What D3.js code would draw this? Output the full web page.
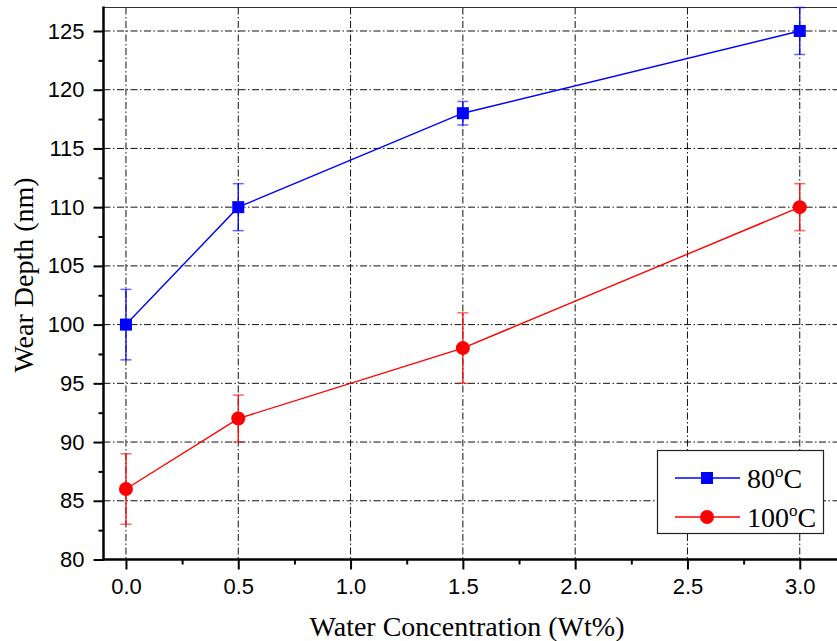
<!DOCTYPE html>
<html>
<head>
<meta charset="utf-8">
<script src="https://cdn.jsdelivr.net/npm/d3@7"></script>
<style>
  html, body { margin: 0; padding: 0; background: #fff; }
  svg { display: block; }
</style>
</head>
<body>
<svg id="chart" width="837" height="641"></svg>
<script>
// Water concentration (Wt%) at which wear depth was measured
const concentrations = [0.0, 0.5, 1.5, 3.0];

// Wear depth (nm) and error half-widths for each temperature
const depth80 = [100, 110, 118, 125];
const err80 = [3, 2, 1, 2];
const depth100 = [86, 92, 98, 110];
const err100 = [3, 2, 3, 2];

const seriesNames = ["80", "100"];
const xTicks = [0.0, 0.5, 1.0, 1.5, 2.0, 2.5, 3.0];
const yTicks = [80, 85, 90, 95, 100, 105, 110, 115, 120, 125];

(function draw() {
  const svg = d3.select("#chart");
  const W = 837;
  const plotLeft = 103.5, plotTop = 7.5, plotBottom = 559.5;

  const x = d3.scaleLinear().domain([-0.1, 3.2]).range([plotLeft, plotLeft + 3.3 * 224.6]);
  const y = d3.scaleLinear().domain([80, 127]).range([plotBottom, plotTop]);

  const dashDot = "7,2.5,1.5,2.5";

  // Grid lines (dash-dot)
  const grid = svg.append("g");
  grid.selectAll("line.gx").data(xTicks).join("line")
    .attr("x1", d => x(d)).attr("x2", d => x(d))
    .attr("y1", plotTop).attr("y2", plotBottom)
    .attr("stroke", "#111").attr("stroke-width", 1)
    .attr("stroke-dasharray", dashDot);
  grid.selectAll("line.gy").data(yTicks.filter(d => d > 80)).join("line")
    .attr("x1", plotLeft).attr("x2", W)
    .attr("y1", d => y(d)).attr("y2", d => y(d))
    .attr("stroke", "#111").attr("stroke-width", 1)
    .attr("stroke-dasharray", dashDot);

  // Top border
  svg.append("line")
    .attr("x1", plotLeft).attr("x2", W).attr("y1", plotTop).attr("y2", plotTop)
    .attr("stroke", "#333").attr("stroke-width", 1.2);

  // Axes
  const xAxis = d3.axisBottom(x).tickValues(xTicks).tickFormat(d3.format(".1f"))
    .tickSize(10).tickPadding(9);
  const xMinor = d3.axisBottom(x).tickValues(d3.range(0.25, 3.2, 0.5)).tickFormat("").tickSize(5);
  const yAxis = d3.axisLeft(y).tickValues(yTicks).tickFormat(d3.format("d"))
    .tickSize(10).tickPadding(9);
  const yMinor = d3.axisLeft(y).tickValues(d3.range(82.5, 127, 5)).tickFormat("").tickSize(5);

  function styleAxis(g) {
    g.select(".domain").remove();
    g.selectAll(".tick line").attr("stroke", "#000").attr("stroke-width", 2);
    g.selectAll("text").attr("fill", "#000")
      .style("font-family", "'Liberation Sans', Arial, sans-serif").style("font-size", "22px");
  }

  svg.append("g").attr("transform", `translate(0,${plotBottom})`).call(xAxis).call(styleAxis);
  svg.append("g").attr("transform", `translate(0,${plotBottom})`).call(xMinor).call(styleAxis);
  svg.append("g").attr("transform", `translate(${plotLeft},0)`).call(yAxis).call(styleAxis);
  svg.append("g").attr("transform", `translate(${plotLeft},0)`).call(yMinor).call(styleAxis);

  // Axis lines
  svg.append("line").attr("x1", plotLeft).attr("x2", plotLeft).attr("y1", plotTop - 1).attr("y2", plotBottom + 1)
    .attr("stroke", "#000").attr("stroke-width", 2.5);
  svg.append("line").attr("x1", plotLeft - 1).attr("x2", W).attr("y1", plotBottom).attr("y2", plotBottom)
    .attr("stroke", "#000").attr("stroke-width", 2.5);

  // Axis titles
  svg.append("text")
    .attr("x", 467).attr("y", 636)
    .attr("text-anchor", "middle")
    .style("font-family", "'Liberation Serif', 'Times New Roman', serif")
    .style("font-size", "28px")
    .text("Water Concentration (Wt%)");
  svg.append("text")
    .attr("transform", `translate(33,275) rotate(-90)`)
    .attr("text-anchor", "middle")
    .style("font-family", "'Liberation Serif', 'Times New Roman', serif")
    .style("font-size", "28px")
    .text("Wear Depth (nm)");

  // Series
  const series = [
    { name: seriesNames[0], values: depth80, errs: err80, color: "#0000ff", shape: "square" },
    { name: seriesNames[1], values: depth100, errs: err100, color: "#ff0000", shape: "circle" }
  ];

  const plot = svg.append("g");
  series.forEach(s => {
    const pts = concentrations.map((c, i) => ({ c, v: s.values[i], e: s.errs[i] }));
    const g = plot.append("g");

    // Error bars
    g.selectAll("line.eb").data(pts).join("line")
      .attr("x1", d => x(d.c)).attr("x2", d => x(d.c))
      .attr("y1", d => y(d.v - d.e)).attr("y2", d => y(d.v + d.e))
      .attr("stroke", s.color).attr("stroke-width", 1.3);
    g.selectAll("line.capU").data(pts).join("line")
      .attr("x1", d => x(d.c) - 5.5).attr("x2", d => x(d.c) + 5.5)
      .attr("y1", d => y(d.v + d.e)).attr("y2", d => y(d.v + d.e))
      .attr("stroke", s.color).attr("stroke-opacity", 0.6).attr("stroke-width", 1.5);
    g.selectAll("line.capL").data(pts).join("line")
      .attr("x1", d => x(d.c) - 5.5).attr("x2", d => x(d.c) + 5.5)
      .attr("y1", d => y(d.v - d.e)).attr("y2", d => y(d.v - d.e))
      .attr("stroke", s.color).attr("stroke-opacity", 0.6).attr("stroke-width", 1.5);

    // Connecting line
    g.append("path").datum(pts)
      .attr("d", d3.line().x(d => x(d.c)).y(d => y(d.v)))
      .attr("fill", "none").attr("stroke", s.color).attr("stroke-width", 1.4);

    // Markers
    if (s.shape === "square") {
      g.selectAll("rect").data(pts).join("rect")
        .attr("x", d => x(d.c) - 6).attr("y", d => y(d.v) - 6)
        .attr("width", 12).attr("height", 12).attr("fill", s.color);
    } else {
      g.selectAll("circle").data(pts).join("circle")
        .attr("cx", d => x(d.c)).attr("cy", d => y(d.v)).attr("r", 7)
        .attr("fill", s.color);
    }
  });

  // Legend
  const legend = svg.append("g");
  legend.append("rect")
    .attr("x", 657.5).attr("y", 450.5).attr("width", 166).attr("height", 83)
    .attr("fill", "#fff").attr("stroke", "#222").attr("stroke-width", 1.2);
  const legY = [478, 517];
  series.forEach((s, i) => {
    const ly = legY[i];
    legend.append("line").attr("x1", 675).attr("x2", 740).attr("y1", ly).attr("y2", ly)
      .attr("stroke", s.color).attr("stroke-width", 1.4);
    if (s.shape === "square") {
      legend.append("rect").attr("x", 701).attr("y", ly - 6).attr("width", 12).attr("height", 12)
        .attr("fill", s.color);
    } else {
      legend.append("circle").attr("cx", 707).attr("cy", ly).attr("r", 7).attr("fill", s.color);
    }
    const t = legend.append("text").attr("x", 747).attr("y", ly + 10)
      .style("font-family", "'Liberation Serif', 'Times New Roman', serif")
      .style("font-size", "28px");
    t.append("tspan").text(s.name);
    t.append("tspan").attr("dy", -11).style("font-size", "17px").text("o");
    t.append("tspan").attr("dy", 11).text("C");
  });
})();
</script>
</body>
</html>
